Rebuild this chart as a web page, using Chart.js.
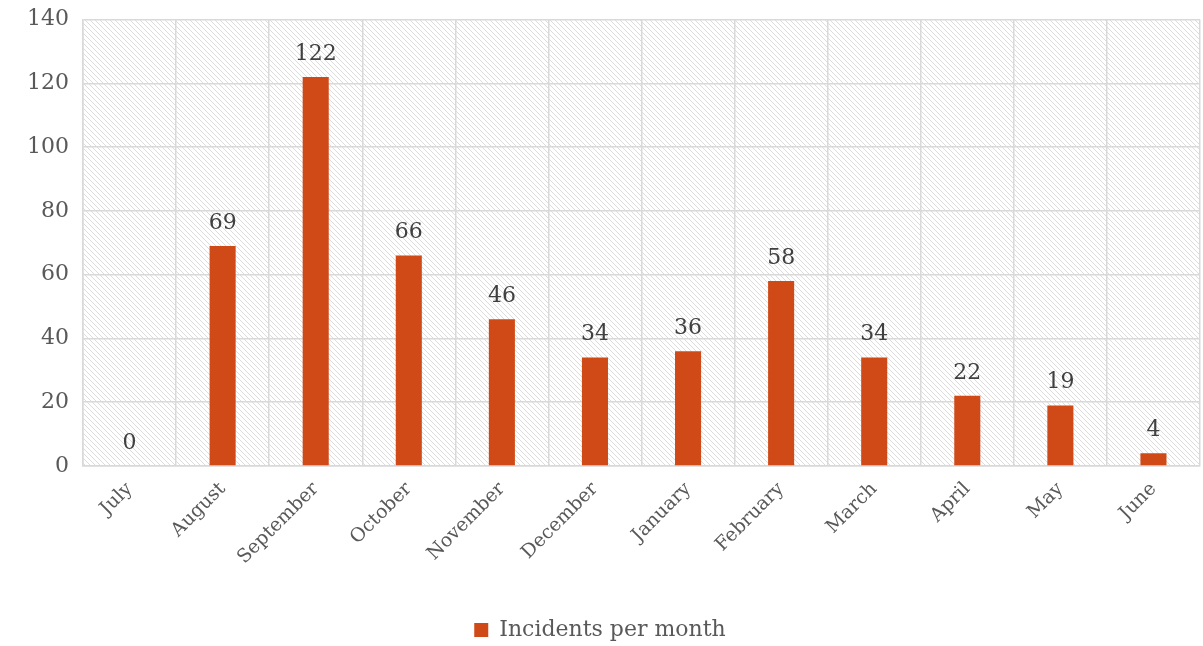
<!DOCTYPE html>
<html>
<head>
<meta charset="utf-8">
<script src="https://cdn.jsdelivr.net/npm/chart.js@4.4.1/dist/chart.umd.min.js"></script>
<style>
  html, body { margin: 0; padding: 0; background: #fff; overflow: hidden; }
  #wrap { width: 1203px; height: 651px; }
</style>
</head>
<body>
<div id="wrap"><canvas id="incidents"></canvas></div>
<script>
// months of the school year and the incident counts
var months = ["July", "August", "September", "October", "November", "December",
              "January", "February", "March", "April", "May", "June"];
var incidents = [0, 69, 122, 66, 46, 34, 36, 58, 34, 22, 19, 4];
var yTicks = [0, 20, 40, 60, 80, 100, 120, 140];

var FONT = "'DejaVu Serif', 'Liberation Serif', serif";
var ORANGE = "#d04a18";

// diagonal hatch fill for the plot area
function makeHatch() {
  var c = document.createElement("canvas");
  c.width = 5; c.height = 5;
  var g = c.getContext("2d");
  g.strokeStyle = "#dcdcdc";
  g.lineWidth = 1;
  g.beginPath();
  g.moveTo(-1, -1); g.lineTo(6, 6);
  g.moveTo(-1, 4); g.lineTo(1, 6);
  g.moveTo(4, -1); g.lineTo(6, 1);
  g.stroke();
  return g.createPattern(c, "repeat");
}

var hatchBg = {
  id: "hatchBg",
  beforeDraw: function(chart) {
    var a = chart.chartArea, ctx = chart.ctx;
    ctx.save();
    ctx.fillStyle = makeHatch();
    ctx.fillRect(a.left, a.top, a.right - a.left, a.bottom - a.top);
    ctx.restore();
  }
};

// value printed above each bar
var valueLabels = {
  id: "valueLabels",
  afterDatasetsDraw: function(chart) {
    var ctx = chart.ctx;
    var meta = chart.getDatasetMeta(0);
    ctx.save();
    ctx.font = "22px " + FONT;
    ctx.fillStyle = "#404040";
    ctx.textAlign = "center";
    ctx.textBaseline = "bottom";
    meta.data.forEach(function(bar, i) {
      ctx.fillText(String(incidents[i]), bar.x, bar.y - 12);
    });
    ctx.restore();
  }
};

new Chart(document.getElementById("incidents"), {
  type: "bar",
  data: {
    labels: months,
    datasets: [{
      label: "Incidents per month",
      data: incidents,
      backgroundColor: ORANGE,
      categoryPercentage: 1,
      barPercentage: 0.28
    }]
  },
  plugins: [hatchBg, valueLabels],
  options: {
    responsive: true,
    maintainAspectRatio: false,
    animation: false,
    layout: { padding: { top: 19, right: 3, bottom: 0, left: 0 } },
    plugins: {
      tooltip: { enabled: false },
      legend: {
        position: "bottom",
        labels: {
          font: { family: FONT, size: 22 },
          color: "#595959",
          boxWidth: 14,
          boxHeight: 14,
          padding: 4
        }
      }
    },
    scales: {
      x: {
        grid: { color: "#d9d9d9", lineWidth: 1.5, drawTicks: false },
        border: { color: "#d9d9d9", width: 1.5 },
        ticks: {
          font: { family: FONT, size: 19 },
          color: "#595959",
          minRotation: 45,
          maxRotation: 45,
          padding: 12
        },
        afterFit: function(s) { s.height = 149; }
      },
      y: {
        min: 0,
        max: 140,
        afterBuildTicks: function(s) {
          s.ticks = yTicks.map(function(v) { return { value: v }; });
        },
        grid: { color: "#d9d9d9", lineWidth: 1.5, drawTicks: false },
        border: { color: "#d9d9d9", width: 1.5 },
        ticks: {
          font: { family: FONT, size: 22, lineHeight: 0.5 },
          color: "#595959",
          padding: 14
        },
        afterFit: function(s) { s.width = 83; }
      }
    }
  }
});
</script>
</body>
</html>
